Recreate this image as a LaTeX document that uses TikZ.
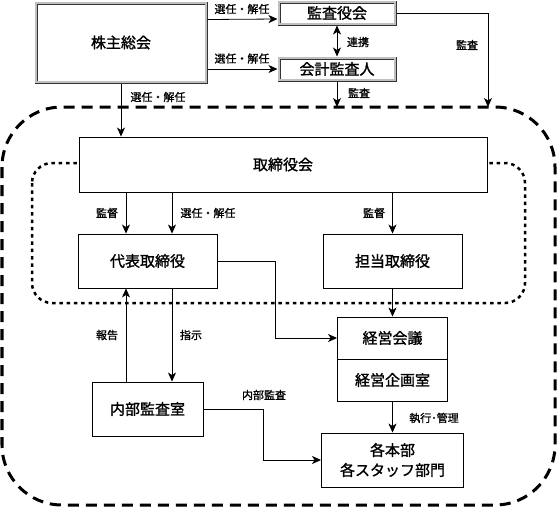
\documentclass[tikz,border=0pt]{standalone}
\usepackage{fontspec}
\setmainfont{Noto Sans CJK JP}[FakeBold=1.3]
\usetikzlibrary{arrows.meta}

\begin{document}
\begin{tikzpicture}[x=1pt,y=1pt,
  box/.style={draw=black, fill=white, line width=0.9pt, inner sep=0pt, align=center, font=\fontsize{15}{20}\selectfont},
  dblbox/.style={box, draw=black!80, line width=3pt, postaction={draw=gray!50, line width=1.3pt}},
  arr/.style={line width=0.8pt, -{Stealth[length=9pt,width=8pt,inset=2.5pt]}},
  dblarr/.style={line width=0.8pt, {Stealth[length=9pt,width=8pt,inset=2.5pt]}-{Stealth[length=9pt,width=8pt,inset=2.5pt]}},
  lbl/.style={inner sep=0pt, font=\fontsize{11}{13}\selectfont},
  bigdash/.style={line width=3pt, dash pattern=on 11pt off 7pt, rounded corners=60pt},
  smalldot/.style={line width=2.5pt, dash pattern=on 3.5pt off 3.8pt, rounded corners=20pt}]
\useasboundingbox (0,0) rectangle (558,-509);
\draw[bigdash] (2,-107) rectangle (555,-505);
\draw[smalldot] (32,-163) rectangle (525,-303);
\node[dblbox, minimum width=170pt, minimum height=79pt] (kabunushi) at (121,-42.5) {株主総会};
\node[dblbox, minimum width=116pt, minimum height=22pt] (kansayaku) at (337,-13) {監査役会};
\node[dblbox, minimum width=116pt, minimum height=22pt] (kaikei) at (337,-69) {会計監査人};
\node[box, minimum width=408pt, minimum height=55pt] (torikai) at (283,-164.5) {取締役会};
\node[box, minimum width=139pt, minimum height=54pt] (daihyo) at (147.5,-261) {代表取締役};
\node[box, minimum width=139pt, minimum height=54pt] (tanto) at (392.5,-261) {担当取締役};
\node[box, minimum width=110pt, minimum height=42pt] (keiei) at (392.5,-338) {経営会議};
\node[box, minimum width=110pt, minimum height=42pt] (kikaku) at (392.5,-380) {経営企画室};
\node[box, minimum width=111pt, minimum height=54pt] (naibu) at (147.5,-409) {内部監査室};
\node[box, minimum width=142pt, minimum height=54pt] (kakubu) at (392.5,-460) {各本部\\各スタッフ部門};
\coordinate (kansaEnd) at (488,-107);
\coordinate (kaikeiEnd) at (337,-107);
\coordinate (kantokuA) at ([xshift=-21.5pt]daihyo.north);
\coordinate (seninC) at ([xshift=24.5pt]daihyo.north);
\draw[arr] (kabunushi.east |- kansayaku.south west) ++(0,6) -- ([yshift=-6pt]kansayaku.west);
\draw[arr] (kabunushi.east |- kaikei.west) -- (kaikei.west);
\draw[dblarr] (kansayaku.south) -- (kaikei.north);
\draw[arr] (kaikei.south) -- (kaikeiEnd);
\draw[arr] (kansayaku.east) -| (kansaEnd);
\draw[arr] (kabunushi.south) -- (kabunushi.south |- torikai.north);
\draw[arr] (kantokuA |- torikai.south) -- (kantokuA);
\draw[arr] (seninC |- torikai.south) -- (seninC);
\draw[arr] (tanto.north |- torikai.south) -- (tanto.north);
\draw[arr] (tanto.south) -- (keiei.north);
\draw[arr] (daihyo.east) -- ++(58,0) |- (keiei.west);
\draw[arr] ([xshift=24.5pt]daihyo.south) -- ([xshift=24.5pt]naibu.north);
\draw[arr] ([xshift=-21.5pt]naibu.north) -- ([xshift=-21.5pt]daihyo.south);
\draw[arr] (naibu.east) -- ++(60,0) |- (kakubu.west);
\draw[arr] (kikaku.south) -- (kakubu.north);
\node[lbl] (seninA) at (242,-9) {選任・解任};
\node[lbl] (seninB) at (242,-58.5) {選任・解任};
\node[lbl] (seninD) at (158,-97) {選任・解任};
\node[lbl] (renkei) at (358,-42) {連携};
\node[lbl] (kansaA) at (467,-45) {監査};
\node[lbl] (kansaB) at (359,-93) {監査};
\node[lbl] (kantokuL) at (107,-213) {監督};
\node[lbl] (seninE) at (208,-213) {選任・解任};
\node[lbl] (kantokuR) at (374,-213) {監督};
\node[lbl] (hokoku) at (107,-335) {報告};
\node[lbl] (shiji) at (191,-335) {指示};
\node[lbl] (naibuKansa) at (264,-395) {内部監査};
\node[lbl] (shiko) at (434,-418) {執行･管理};
\end{tikzpicture}
\end{document}
